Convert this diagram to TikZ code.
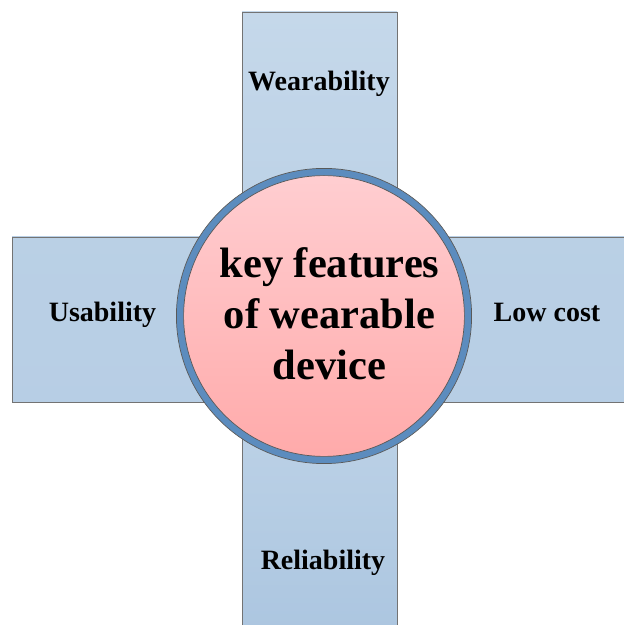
\documentclass[tikz,border=0pt]{standalone}
\usepackage{fontspec}
\setmainfont{Liberation Serif}
\begin{document}
\begin{tikzpicture}[x=1pt,y=1pt,
  armbox/.style={draw=black!55, line width=0.8pt},
  label/.style={font=\fontsize{28}{32}\selectfont\bfseries, text=black, anchor=base},
  hubtext/.style={font=\fontsize{42.5}{51}\selectfont\bfseries, align=center, text=black}]
\definecolor{armtop}{RGB}{197,216,234}
\definecolor{armbot}{RGB}{172,198,224}
\definecolor{ringblue}{RGB}{92,140,190}
\definecolor{pinktop}{RGB}{255,206,209}
\definecolor{pinkbot}{RGB}{255,170,170}
\useasboundingbox (0,0) rectangle (624,625);
\clip (0,0) rectangle (624,625);
% four arms of the cross
\draw[armbox, top color=armtop, bottom color=armtop!60!armbot] (242,375) rectangle (397,613);
\draw[armbox, top color=armtop!75!armbot, bottom color=armbot] (242,-5) rectangle (397,240);
\draw[armbox, top color=armtop!55!armbot, bottom color=armtop!45!armbot] (12,223) rectangle (250,388);
\draw[armbox, top color=armtop!55!armbot, bottom color=armtop!45!armbot] (398,223) rectangle (630,388);
% central hub
\coordinate (hub) at (324,309);
\fill[top color=pinktop, bottom color=pinkbot] (hub) circle (144);
\draw[ringblue, line width=7pt] (hub) circle (144);
\draw[black!65, line width=0.7pt] (hub) circle (147.6);
\draw[black!65, line width=0.7pt] (hub) circle (140.4);
% labels
\node[label] (wear) at (319,534) {Wearability};
\node[label] (usab) at (102.5,303) {Usability};
\node[label] (cost) at (547,303) {Low cost};
\node[label] (reli) at (323,55.5) {Reliability};
\node[hubtext] (key) at (329.5,311) {key features\\of wearable\\device};
\end{tikzpicture}
\end{document}
